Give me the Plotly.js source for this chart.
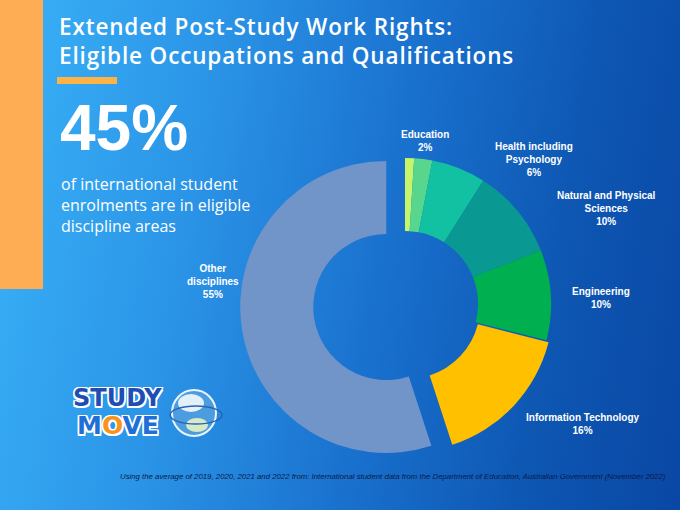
<!DOCTYPE html>
<html>
<head>
<meta charset="utf-8">
<script src="https://cdn.plot.ly/plotly-3.0.1.min.js"></script>
<style>
  html, body { margin: 0; padding: 0; }
  #chart {
    width: 680px; height: 510px;
    background: linear-gradient(100deg, #3ab2f8 0%, #2a93e6 30%, #1a72cf 55%, #0d56b2 80%, #0a47a4 100%);
  }
  #chart g.annotation[data-index="0"] text { letter-spacing: 0.85px; }
</style>
</head>
<body>
<div id="chart"></div>
<script>
// ---- data ----
const categories = ["Other eligible areas", "Education", "Health including Psychology",
  "Natural and Physical Sciences", "Engineering", "Information Technology", "Other disciplines"];
const values = [1, 2, 6, 10, 10, 16, 55];
const labelLines = ["", "Education", "Health including<br>Psychology", "Natural and Physical<br>Sciences",
  "Engineering", "Information Technology", "Other<br>disciplines"];
const chartTitle = "Extended Post-Study Work Rights:<br>Eligible Occupations and Qualifications";
const sourceNote = "Using the average of 2019, 2020, 2021 and 2022 from: International student data from the Department of Education, Australian Government (November 2022)";

// ---- styling ----
const sliceColors = ["#c6f56b", "#58d68e", "#12c0a2", "#0a9893", "#00b050", "#ffc000", "#7194c9"];
const slicePull = [0, 0, 0, 0, 0, 0.02, 0.13];
// label positions in pixels (center of text block)
const labelPos = [null, [425, 141], [534, 159], [606, 208], [601, 298], [583, 424], [213, 281]];

const W = 680, H = 510;
const px = x => x / W;
const py = y => 1 - y / H;

const eligibleShare = values.slice(0, 6).reduce((a, b) => a + b, 0);

const trace = {
  type: "pie",
  labels: categories,
  values: values,
  hole: 0.5,
  sort: false,
  direction: "clockwise",
  rotation: 0,
  pull: slicePull,
  marker: { colors: sliceColors, line: { width: 0 } },
  textinfo: "none",
  hoverinfo: "label+percent",
  showlegend: false,
  domain: { x: [px(240), px(570)], y: [py(469), py(139)] }
};

const annotations = [];
// title (index 0)
annotations.push({
  xref: "paper", yref: "paper", x: px(57), y: py(41),
  xanchor: "left", yanchor: "middle", align: "left",
  text: chartTitle, showarrow: false,
  font: { family: "Open Sans, sans-serif", size: 22.5, color: "#ffffff", weight: 600 }
});
labelLines.forEach((t, i) => {
  if (!t) return;
  annotations.push({
    xref: "paper", yref: "paper",
    x: px(labelPos[i][0]), y: py(labelPos[i][1]),
    xanchor: "center", yanchor: "middle",
    text: t + "<br>" + values[i] + "%",
    showarrow: false, align: "center",
    font: { family: "Liberation Sans, Arial, sans-serif", size: 10, color: "#ffffff", weight: 700 }
  });
});

// big number
annotations.push({
  xref: "paper", yref: "paper", x: px(58), y: py(128),
  xanchor: "left", yanchor: "middle",
  text: eligibleShare + "%", showarrow: false,
  font: { family: "Liberation Sans, Arial, sans-serif", size: 64, color: "#ffffff", weight: 700 }
});
// subtext
annotations.push({
  xref: "paper", yref: "paper", x: px(59), y: py(205),
  xanchor: "left", yanchor: "middle", align: "left",
  text: "of international student<br>enrolments are in eligible<br>discipline areas", showarrow: false,
  font: { family: "Open Sans, sans-serif", size: 16, color: "#ffffff" }
});
// source note
annotations.push({
  xref: "paper", yref: "paper", x: px(668), y: py(476),
  xanchor: "right", yanchor: "middle",
  text: "<i>" + sourceNote + "</i>", showarrow: false,
  font: { family: "Liberation Sans Narrow, Liberation Sans, Arial, sans-serif", size: 7.8, color: "#0b1a45" }
});
// logo text
const outline = "-1.5px -1.5px 0 #fff, 1.5px -1.5px 0 #fff, -1.5px 1.5px 0 #fff, 1.5px 1.5px 0 #fff, 0 1.5px 0 #fff, 0 -1.5px 0 #fff, 1.5px 0 0 #fff, -1.5px 0 0 #fff";
annotations.push({
  xref: "paper", yref: "paper", x: px(117), y: py(398),
  xanchor: "center", yanchor: "middle",
  text: "STUDY", showarrow: false,
  font: { family: "DejaVu Sans, sans-serif", size: 24, color: "#1f4db4", weight: 700, shadow: outline }
});
annotations.push({
  xref: "paper", yref: "paper", x: px(118), y: py(425),
  xanchor: "center", yanchor: "middle",
  text: "M<span style='color:#f7941e'>O</span>VE",
  showarrow: false,
  font: { family: "DejaVu Sans, sans-serif", size: 25, color: "#1f6fd6", weight: 700, shadow: outline }
});

const shapes = [
  // orange side strip
  { type: "rect", xref: "paper", yref: "paper", x0: 0, x1: px(43), y0: py(289), y1: 1,
    fillcolor: "#ffad55", line: { width: 0 }, layer: "below" },
  // orange underline
  { type: "rect", xref: "paper", yref: "paper", x0: px(57), x1: px(117), y0: py(84), y1: py(77),
    fillcolor: "#ffb347", line: { width: 0 } },
  // globe
  { type: "circle", xref: "paper", yref: "paper", x0: px(172), x1: px(216), y0: py(436), y1: py(390),
    fillcolor: "#4b9de0", line: { color: "#eaf5ff", width: 2 } },
  { type: "circle", xref: "paper", yref: "paper", x0: px(178), x1: px(204), y0: py(412), y1: py(394),
    fillcolor: "#e4f0f8", line: { width: 0 } },
  { type: "circle", xref: "paper", yref: "paper", x0: px(186), x1: px(208), y0: py(432), y1: py(418),
    fillcolor: "#d8e9c8", line: { width: 0 } },
  { type: "circle", xref: "paper", yref: "paper", x0: px(170), x1: px(222), y0: py(424), y1: py(406),
    fillcolor: "rgba(0,0,0,0)", line: { color: "#2a63b5", width: 1.5 } }
];

const layout = {
  width: W, height: H,
  margin: { l: 0, r: 0, t: 0, b: 0 },
  paper_bgcolor: "rgba(0,0,0,0)",
  plot_bgcolor: "rgba(0,0,0,0)",
  annotations: annotations,
  shapes: shapes
};

Plotly.newPlot("chart", [trace], layout, { displayModeBar: false, staticPlot: true });
</script>
</body>
</html>
